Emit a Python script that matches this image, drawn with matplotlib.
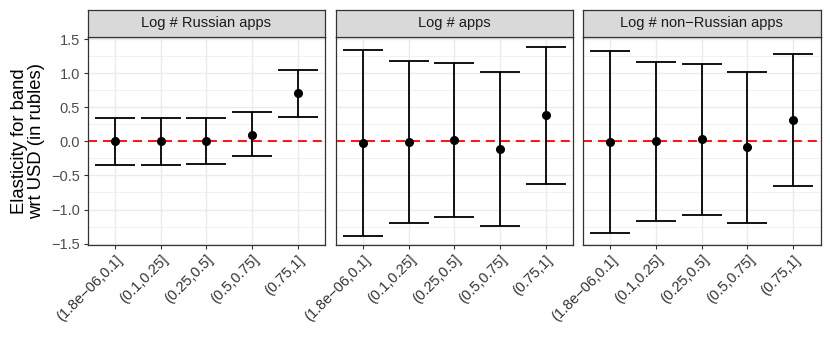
import matplotlib
matplotlib.use("Agg")
import matplotlib.pyplot as plt
import numpy as np

plt.rcParams['font.family'] = ['Liberation Sans', 'DejaVu Sans']

# bands and panels
bands = ['(1.8e\u221206,0.1]', '(0.1,0.25]', '(0.25,0.5]', '(0.5,0.75]', '(0.75,1]']
panels = ['Log # Russian apps', 'Log # apps', 'Log # non\u2212Russian apps']

# point estimates
est_russian = [0.0, 0.0, 0.0, 0.10, 0.71]
est_all = [-0.025, -0.01, 0.015, -0.11, 0.38]
est_nonrussian = [-0.005, 0.005, 0.03, -0.09, 0.31]

# confidence bounds
lo_russian = [-0.34, -0.34, -0.33, -0.22, 0.36]
hi_russian = [0.34, 0.34, 0.34, 0.43, 1.05]
lo_all = [-1.39, -1.20, -1.11, -1.24, -0.625]
hi_all = [1.34, 1.18, 1.145, 1.01, 1.38]
lo_nonrussian = [-1.345, -1.17, -1.08, -1.20, -0.66]
hi_nonrussian = [1.33, 1.17, 1.135, 1.01, 1.28]

estimates = [est_russian, est_all, est_nonrussian]
lows = [lo_russian, lo_all, lo_nonrussian]
highs = [hi_russian, hi_all, hi_nonrussian]

W, H = 830, 356
fig = plt.figure(figsize=(W / 100, H / 100), dpi=100)

lefts = [87.5, 335.5, 583]
pw = 237.5
ptop, pbot = 37, 245
strip_top = 9.5

x = np.arange(1, len(bands) + 1)
for k, (name, est, lo, hi) in enumerate(zip(panels, estimates, lows, highs)):
    ax = fig.add_axes([lefts[k] / W, 1 - pbot / H, pw / W, (pbot - ptop) / H])
    ax.set_xlim(0.4, 5.6)
    ax.set_ylim(-1.52, 1.53)
    ax.set_yticks([-1.5, -1.0, -0.5, 0.0, 0.5, 1.0, 1.5])
    ax.set_yticks([-1.25, -0.75, -0.25, 0.25, 0.75, 1.25], minor=True)
    ax.set_xticks(x)
    ax.set_xticklabels(bands, rotation=45, ha='right', rotation_mode='anchor',
                       fontsize=10.5, color='#4D4D4D')
    ax.grid(True, which='major', color='#EBEBEB', lw=1.0)
    ax.grid(True, which='minor', axis='y', color='#EBEBEB', lw=0.5)
    ax.set_axisbelow(True)
    for s in ax.spines.values():
        s.set_color('#333333')
        s.set_linewidth(0.9)
    ax.tick_params(axis='both', colors='#333333', length=3, width=0.8, labelsize=10.5, pad=2.5)
    ax.tick_params(axis='y', which='minor', length=0)
    if k == 0:
        ax.set_yticklabels(['\u22121.5', '\u22121.0', '\u22120.5', '0.0', '0.5', '1.0', '1.5'],
                           color='#4D4D4D')
        ax.set_ylabel('Elasticity for band\nwrt USD (in rubles)', fontsize=13.3, labelpad=4,
                      linespacing=1.0)
    else:
        ax.tick_params(axis='y', which='both', left=False, labelleft=False)

    ax.axhline(0, color='#FF0000', ls=(0, (5, 3.3)), lw=1.3, zorder=2)
    est = np.array(est)
    ax.errorbar(x, est, yerr=[est - np.array(lo), np.array(hi) - est], fmt='o',
                color='black', ms=5.5, elinewidth=1.3, capsize=14.5, capthick=1.3, zorder=3)

    # strip
    sax = fig.add_axes([lefts[k] / W, 1 - ptop / H, pw / W, (ptop - strip_top) / H])
    sax.set_facecolor('#D9D9D9')
    sax.set_xticks([])
    sax.set_yticks([])
    for s in sax.spines.values():
        s.set_color('#333333')
        s.set_linewidth(0.9)
    sax.text(0.5, 0.5, name, ha='center', va='center', fontsize=10.5,
             color='#1A1A1A', transform=sax.transAxes)

fig.savefig('out.png', dpi=100)
